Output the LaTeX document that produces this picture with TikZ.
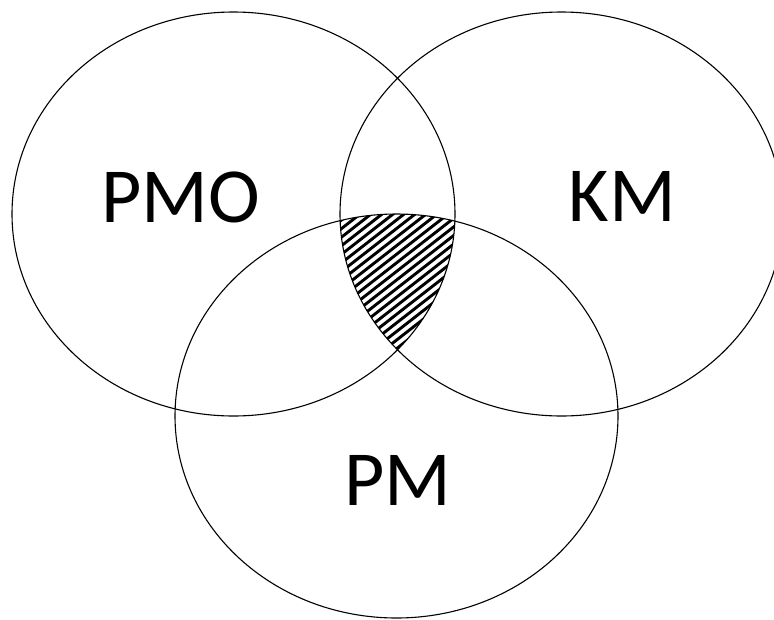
\documentclass[tikz,border=0pt]{standalone}
\usepackage{fontspec}
\setmainfont{Carlito}
\tikzset{
  setlabel/.style={font=\fontsize{78}{82}\selectfont,inner sep=0pt},
  hatchline/.style={line width=2.9pt,black}
}
\begin{document}
\begin{tikzpicture}[x=1pt,y=-1pt,line width=1.1pt]
\useasboundingbox (0,0) rectangle (774,619);
\clip (0,0) rectangle (774,619);
% shaded overlap of all three sets
\begin{scope}
\clip (233.5,214) ellipse [x radius=221.5,y radius=202];
\clip (561.5,214) ellipse [x radius=221.5,y radius=202];
\clip (396.5,416) ellipse [x radius=221.5,y radius=202];
\foreach \a in {140,151,...,460}
  \draw[hatchline] (\a,360) -- ++(300,-234);
\end{scope}
% sets
\draw (233.5,214) ellipse [x radius=221.5,y radius=202];
\draw (561.5,214) ellipse [x radius=221.5,y radius=202];
\draw (396.5,416) ellipse [x radius=221.5,y radius=202];
\node[setlabel] (pmo) at (180.5,197.5) {PMO};
\node[setlabel] (km) at (622.5,196) {KM};
\node[setlabel] (pm) at (397.5,480) {PM};
\end{tikzpicture}
\end{document}
